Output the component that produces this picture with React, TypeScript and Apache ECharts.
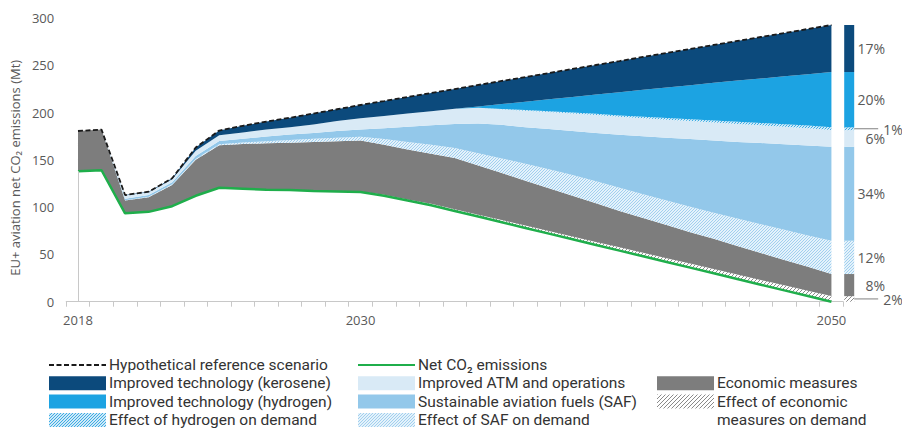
import React, { useEffect, useRef } from "react";
import * as echarts from "echarts";

// Years on the category axis
const years = [
  "2018", "2019", "2020", "2021", "2022", "2023", "2024", "2025", "2026", "2027", "2028",
  "2029", "2030", "2031", "2032", "2033", "2034", "2035", "2036", "2037", "2038", "2039",
  "2040", "2041", "2042", "2043", "2044", "2045", "2046", "2047", "2048", "2049", "2050",
];
const labelledYears = ["2018", "2030", "2050"];

// Net CO2 emissions (Mt)
const netEmissions = [
  138, 139, 93.5, 95, 101, 112, 120.5, 119.5, 118.5, 118, 117, 116.5, 116,
  112, 107, 102, 96, 90, 84, 78, 72, 66, 60, 54, 48, 42, 36, 30, 24, 18, 12, 6, 0,
];
// Reductions stacked above the net line, bottom to top (Mt)
const econDemand = [
  0, 0, 0, 0, 0, 0, 0, 0, 0, 0, 0, 0, 0.5,
  1, 1.2, 1.5, 1.8, 2, 2.3, 2.5, 2.8, 3, 3.2, 3.5, 3.8, 4, 4.3, 4.5, 4.8, 5, 5.3, 5.6, 5.9,
];
const economicMeasures = [
  42.5, 43, 13.5, 15.5, 22.5, 38, 45, 47.3, 49, 50.2, 52, 53.3, 54,
  53, 52.8, 53, 54.2, 52, 49.7, 47.5, 45.2, 43, 40.8, 38.5, 36.7, 35, 33.2, 32, 30.2, 28.5, 26.7, 25.4, 23.4,
];
const safDemand = [
  0, 0, 0.3, 0.5, 0.7, 0.8, 1, 1.5, 2.2, 2.8, 3.3, 3.7, 4,
  6, 8, 9.5, 10.5, 13, 15.5, 18, 20, 22, 23.5, 24.5, 25, 26, 27, 27.5, 29, 30.5, 32, 33, 35.1,
];
const safFuels = [
  0, 0, 1.5, 1.8, 2, 3.2, 3.5, 4, 5, 5.7, 6.2, 7, 7.5,
  11.5, 16, 20.5, 25.5, 31.5, 35.5, 38.5, 42.5, 46.5, 51, 56, 61.5, 66.5, 71.5, 76.5, 81, 85.8, 90.5, 95.2, 99.5,
];
const atmOperations = [
  0, 0, 3.5, 3, 3.3, 5.5, 6, 6.7, 7.3, 7.8, 9, 10.5, 12,
  13, 14, 15, 16, 16.5, 16.5, 17.5, 18, 18.5, 19, 19, 19, 19, 19, 19, 19, 18.7, 18.5, 18.3, 17.6,
];
const hydrogenDemand = [
  0, 0, 0, 0, 0, 0, 0, 0, 0, 0, 0, 0, 0, 0, 0, 0, 0,
  0.2, 0.4, 0.6, 0.8, 1, 1.2, 1.4, 1.6, 1.8, 2, 2.2, 2.4, 2.5, 2.6, 2.8, 2.9,
];
const hydrogenTech = [
  0, 0, 0, 0, 0, 0, 0, 0, 0, 0, 0, 0, 0, 0, 0, 0, 0,
  1.3, 5.1, 8.9, 12.7, 16.5, 20.3, 24.6, 28.4, 32.2, 36, 39.8, 43.6, 47, 50.7, 54.3, 58.5,
];
const keroseneTech = [
  0, 0, 0.5, 0.5, 1, 3.5, 5, 7, 8.5, 10, 11.5, 12.5, 14,
  15.7, 17.5, 19.2, 20.9, 22.7, 24.4, 26.1, 27.8, 29.6, 31.3, 33, 34.8, 36.5, 38.2, 40, 41.7, 43.9, 45.8, 47.8, 49.7,
];
const referenceScenario = [
  180.5, 182, 112.8, 116.3, 130.5, 163, 181, 186, 190.5, 194.5, 199, 203.5, 208,
  212.2, 216.5, 220.7, 224.9, 229.2, 233.4, 237.6, 241.8, 246.1, 250.3, 254.5, 258.8, 263, 267.2,
  271.5, 275.7, 279.9, 284.1, 288.4, 292.6,
];
// Share of the 2050 reduction per measure (%), bottom to top
const shares2050 = [2, 8, 12, 34, 6, 1, 20, 17];

const FONT = "'Open Sans', 'Noto Sans', 'DejaVu Sans', sans-serif";
const LEGEND_FONT = "Roboto, 'Open Sans', 'Noto Sans', sans-serif";
const COLORS = {
  kerosene: "#0c4a7c",
  hydrogen: "#1ca3e2",
  atm: "#d9eaf6",
  saf: "#93c8ea",
  econ: "#7d7d7d",
  net: "#1fae4b",
  reference: "#1a1a1a",
  text: "#333333",
  axis: "#595959",
  axisLine: "#c8c8c8",
};

function hatch(line: string, bg: string, size = 5, width = 1.1) {
  const c = document.createElement("canvas");
  c.width = size;
  c.height = size;
  const ctx = c.getContext("2d")!;
  ctx.fillStyle = bg;
  ctx.fillRect(0, 0, size, size);
  ctx.strokeStyle = line;
  ctx.lineWidth = width;
  ctx.beginPath();
  ctx.moveTo(0, size);
  ctx.lineTo(size, 0);
  ctx.moveTo(-1, 1);
  ctx.lineTo(1, -1);
  ctx.moveTo(size - 1, size + 1);
  ctx.lineTo(size + 1, size - 1);
  ctx.stroke();
  return { image: c, repeat: "repeat", imageWidth: size, imageHeight: size } as any;
}

export default function App() {
  const ref = useRef<HTMLDivElement>(null);

  useEffect(() => {
    const chart = echarts.init(ref.current!, null, { renderer: "svg" });

    const fills = {
      econDemand: hatch("#8a8a8a", "#ffffff", 4, 1),
      safDemand: hatch("#98cbec", "#e4f2fb", 3, 0.9),
      hydrogenDemand: hatch("#2ea6e0", "#cfe9f8", 3, 0.9),
    };

    const stackLayers = [
      { name: "Effect of economic measures on demand", data: econDemand, fill: fills.econDemand },
      { name: "Economic measures", data: economicMeasures, fill: COLORS.econ },
      { name: "Effect of SAF on demand", data: safDemand, fill: fills.safDemand },
      { name: "Sustainable aviation fuels (SAF)", data: safFuels, fill: COLORS.saf },
      { name: "Improved ATM and operations", data: atmOperations, fill: COLORS.atm },
      { name: "Effect of hydrogen on demand", data: hydrogenDemand, fill: fills.hydrogenDemand },
      { name: "Improved technology (hydrogen)", data: hydrogenTech, fill: COLORS.hydrogen },
      { name: "Improved technology (kerosene)", data: keroseneTech, fill: COLORS.kerosene },
    ];

    const total2050 = referenceScenario[referenceScenario.length - 1];
    let acc = 0;
    const barSegments = shares2050.map((p, i) => {
      const start = acc;
      acc += p;
      return [years.length - 1, (start * total2050) / 100, (acc * total2050) / 100, i];
    });

    // Legend layout: three columns of swatch + label
    const colX = [49, 358, 657];
    const rowY = [365, 383.3, 401.6, 419.9];
    const swW = 57;
    const swH = 14;
    const rowH = 18.3;
    type LegendItem = { text: string; col: number; row: number; kind: "dash" | "line" | "rect" | "none"; fill?: any };
    const legendItems: LegendItem[] = [
      { text: "Hypothetical reference scenario", col: 0, row: 0, kind: "dash" },
      { text: "Improved technology (kerosene)", col: 0, row: 1, kind: "rect", fill: COLORS.kerosene },
      { text: "Improved technology (hydrogen)", col: 0, row: 2, kind: "rect", fill: COLORS.hydrogen },
      { text: "Effect of hydrogen on demand", col: 0, row: 3, kind: "rect", fill: fills.hydrogenDemand },
      { text: "Net CO₂ emissions", col: 1, row: 0, kind: "line" },
      { text: "Improved ATM and operations", col: 1, row: 1, kind: "rect", fill: COLORS.atm },
      { text: "Sustainable aviation fuels (SAF)", col: 1, row: 2, kind: "rect", fill: COLORS.saf },
      { text: "Effect of SAF on demand", col: 1, row: 3, kind: "rect", fill: fills.safDemand },
      { text: "Economic measures", col: 2, row: 1, kind: "rect", fill: COLORS.econ },
      { text: "Effect of economic", col: 2, row: 2, kind: "rect", fill: fills.econDemand },
      { text: "measures on demand", col: 2, row: 3, kind: "none" },
    ];
    const legendGraphics: any[] = [];
    legendItems.forEach((it) => {
      const x = colX[it.col];
      const y = rowY[it.row];
      if (it.kind === "dash" || it.kind === "line") {
        legendGraphics.push({
          type: "line",
          shape: { x1: x, y1: y, x2: x + swW, y2: y },
          style: {
            stroke: it.kind === "dash" ? COLORS.reference : COLORS.net,
            lineWidth: 2,
            lineDash: it.kind === "dash" ? [5, 2.5] : undefined,
          },
          silent: true,
        });
      } else if (it.kind === "rect") {
        legendGraphics.push({
          type: "rect",
          shape: { x, y: y - swH / 2, width: swW, height: swH },
          style: { fill: it.fill },
          silent: true,
        });
      }
      legendGraphics.push({
        type: "text",
        x: x + swW + 3,
        y: y,
        style: {
          text: it.text,
          fill: COLORS.text,
          font: `15.5px ${LEGEND_FONT}`,
          lineHeight: rowH - 1.5,
          verticalAlign: "middle",
          align: "left",
        },
        silent: true,
      });
    });

    const option: any = {
      animation: false,
      backgroundColor: "#ffffff",
      grid: { left: 66, right: 902 - 843.2, top: 18, bottom: 433 - 301.7, containLabel: false },
      xAxis: {
        type: "category",
        data: years,
        boundaryGap: true,
        axisLine: { show: true, lineStyle: { color: COLORS.axisLine, width: 1 } },
        axisTick: { show: true, interval: 0, length: 5, lineStyle: { color: COLORS.axisLine } },
        axisLabel: {
          interval: (_i: number, v: string) => labelledYears.includes(v),
          color: COLORS.axis,
          fontSize: 13,
          fontFamily: FONT,
          margin: 12,
        },
        splitLine: { show: false },
      },
      yAxis: {
        type: "value",
        min: 0,
        max: 300,
        interval: 50,
        name: "EU+ aviation net CO₂ emissions (Mt)",
        nameLocation: "middle",
        nameRotate: 90,
        nameGap: 44,
        nameTextStyle: { color: COLORS.axis, fontSize: 13, fontFamily: FONT, padding: [0, 16, 0, 0] },
        axisLine: { show: false },
        axisTick: { show: false },
        splitLine: { show: false },
        axisLabel: { color: COLORS.axis, fontSize: 13, fontFamily: FONT, margin: 12 },
      },
      graphic: legendGraphics,
      series: [
        {
          name: "Net CO₂ emissions",
          type: "line",
          stack: "co2",
          data: netEmissions,
          symbol: "none",
          z: 4,
          silent: true,
          lineStyle: { color: COLORS.net, width: 2.5 },
          markLine: {
            silent: true,
            symbol: "none",
            label: { show: false },
            lineStyle: { color: COLORS.axisLine, width: 1, type: "solid" },
            data: [[{ coord: [years[0], 0] }, { coord: [years[0], netEmissions[0]] }]],
          },
        },
        ...stackLayers.map((l) => ({
          name: l.name,
          type: "line",
          stack: "co2",
          data: l.data,
          symbol: "none",
          silent: true,
          z: 2,
          lineStyle: { width: 0 },
          areaStyle: { color: l.fill, opacity: 1 },
        })),
        {
          name: "Hypothetical reference scenario",
          type: "line",
          data: referenceScenario,
          symbol: "none",
          silent: true,
          z: 5,
          lineStyle: { color: COLORS.reference, width: 1.8, type: [5, 2.5] },
        },
        {
          name: "Shares 2050",
          type: "custom",
          coordinateSystem: "cartesian2d",
          data: barSegments,
          silent: true,
          clip: false,
          z: 6,
          renderItem: (params: any, api: any) => {
            const i = params.dataIndex;
            const cat = api.value(0);
            const lo = api.coord([cat, api.value(1)]);
            const hi = api.coord([cat, api.value(2)]);
            const band = api.size([1, 0])[0];
            const left = lo[0] + band / 2 + 1;
            const w = 10;
            const cy = (lo[1] + hi[1]) / 2;
            const label = `${shares2050[i]}%`;
            const children: any[] = [
              {
                type: "rect",
                shape: { x: left, y: hi[1], width: w, height: lo[1] - hi[1] },
                style: { fill: stackLayers[i].fill },
              },
            ];
            if (shares2050[i] <= 2) {
              children.push({
                type: "line",
                shape: { x1: left + w, y1: cy, x2: left + w + 24, y2: cy },
                style: { stroke: "#808080", lineWidth: 1 },
              });
              children.push({
                type: "text",
                style: {
                  text: label, x: left + w + 29, y: cy + 1, align: "left", verticalAlign: "middle",
                  fill: COLORS.axis, font: `14px ${FONT}`,
                },
              });
            } else {
              children.push({
                type: "text",
                style: {
                  text: label, x: left + 41, y: cy, align: "right", verticalAlign: "middle",
                  fill: COLORS.axis, font: `14px ${FONT}`,
                },
              });
            }
            return { type: "group", children };
          },
        },
      ],
    };

    chart.setOption(option);
    return () => chart.dispose();
  }, []);

  return (
    <div
      ref={ref}
      style={{ position: "fixed", left: 0, top: 0, width: 902, height: 433, background: "#fff" }}
    />
  );
}
